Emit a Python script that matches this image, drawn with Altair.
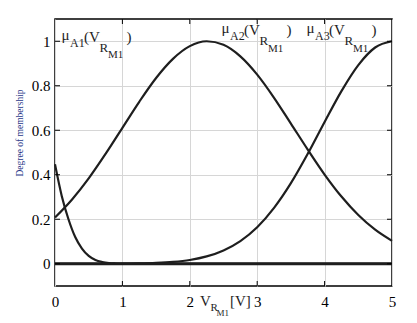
import altair as alt
import pandas as pd

# ---- data ----
x_ticks = [0, 1, 2, 3, 4, 5]
y_ticks = [0, 0.2, 0.4, 0.6, 0.8, 1.0]

x_a1 = [0.0, 0.1, 0.2, 0.3, 0.4, 0.5, 0.6, 0.7, 0.8, 0.9, 1.0, 1.5, 2.0, 3.0, 4.0, 5.0]
a1 = [0.447, 0.305, 0.200, 0.120, 0.068, 0.035, 0.017, 0.008, 0.003, 0.001, 0.0, 0.0, 0.0, 0.0, 0.0, 0.0]

x_a23 = [0.0, 0.25, 0.5, 0.75, 1.0, 1.25, 1.5, 1.75, 2.0, 2.25, 2.5, 2.75,
         3.0, 3.25, 3.5, 3.75, 4.0, 4.25, 4.5, 4.75, 5.0]
a2 = [0.208, 0.288, 0.384, 0.494, 0.611, 0.728, 0.835, 0.921, 0.978, 1.0, 0.984, 0.932,
      0.850, 0.746, 0.630, 0.513, 0.401, 0.302, 0.219, 0.153, 0.103]
a3 = [0.0, 0.0, 0.0, 0.0, 0.0007, 0.0017, 0.004, 0.0085, 0.017, 0.033, 0.060, 0.102,
      0.164, 0.251, 0.362, 0.494, 0.637, 0.776, 0.893, 0.972, 1.0]

df = pd.concat([
    pd.DataFrame({"x": x_a1, "y": a1, "s": "A1"}),
    pd.DataFrame({"x": x_a23, "y": a2, "s": "A2"}),
    pd.DataFrame({"x": x_a23, "y": a3, "s": "A3"}),
])

W, H = 337, 267
OX, OY = 55, 19
FONT = "'Liberation Serif', 'Times New Roman', 'DejaVu Serif', serif"
INK = "#1e1e1e"

xscale = alt.Scale(domain=[0, 5], nice=False, zero=False)
yscale = alt.Scale(domain=[-0.1, 1.1], nice=False, zero=False)

xaxis = alt.Axis(values=x_ticks, format="~g", title=None, ticks=False, domain=False, grid=True,
                 gridColor="#d6d6d6", gridWidth=1, labelFont=FONT, labelFontSize=15,
                 labelColor="black", labelPadding=8, labelFlush=False)
yaxis = alt.Axis(values=y_ticks, format="~g", title=None, ticks=False, domain=False, grid=True,
                 gridColor="#d6d6d6", gridWidth=1, labelFont=FONT, labelFontSize=15,
                 labelColor="black", labelPadding=5, labelFlush=False)

lines = alt.Chart(df).mark_line(color=INK, strokeWidth=2.2, interpolate="monotone").encode(
    x=alt.X("x:Q", scale=xscale, axis=xaxis),
    y=alt.Y("y:Q", scale=yscale, axis=yaxis),
    detail="s:N",
)

zero = alt.Chart(pd.DataFrame({"v": [0.0]})).mark_rule(color=INK, strokeWidth=3).encode(
    y=alt.Y("v:Q", scale=yscale, axis=yaxis), x=alt.value(0), x2=alt.value(W))

ydf = pd.DataFrame({"v": y_ticks})
xdf = pd.DataFrame({"v": x_ticks[1:-1]})
tk = dict(color="black", strokeWidth=1)
ticks = [
    alt.Chart(ydf).mark_rule(**tk).encode(y=alt.Y("v:Q", scale=yscale, axis=yaxis), x=alt.value(0), x2=alt.value(5)),
    alt.Chart(ydf).mark_rule(**tk).encode(y=alt.Y("v:Q", scale=yscale, axis=yaxis), x=alt.value(W - 5), x2=alt.value(W)),
    alt.Chart(xdf).mark_rule(**tk).encode(x=alt.X("v:Q", scale=xscale, axis=xaxis), y=alt.value(H), y2=alt.value(H - 5)),
    alt.Chart(xdf).mark_rule(**tk).encode(x=alt.X("v:Q", scale=xscale, axis=xaxis), y=alt.value(0), y2=alt.value(5)),
]


def txt(s, ax, ay, size, color=INK, **kw):
    return alt.Chart(alt.Data(values=[{}])).mark_text(
        text=s, font=FONT, fontSize=size, color=color, align=kw.pop("align", "left"),
        baseline=kw.pop("baseline", "alphabetic"), **kw
    ).encode(x=alt.value(ax - OX), y=alt.value(ay - OY))


def mu_label(idx, x0, dy):
    # pieces: mu, subscript, "(V", R, M1, ")"
    return [
        txt("\u03bc", x0, 39.5 + dy, 15),
        txt("A" + idx, x0 + 8.5, 46.7 + dy, 12),
        txt("(V", x0 + 22.5, 41.7 + dy, 15),
        txt("R", x0 + 38, 51.7 + dy, 13),
        txt("M1", x0 + 46.5, 58.3 + dy, 11),
        txt(")", x0 + 65, 41.7 + dy, 15),
    ]


labels = []
labels += mu_label("1", 61.5, 0)
labels += mu_label("2", 221.5, -6.7)
labels += mu_label("3", 306.5, -6.4)

xtitle = [
    txt("V", 200, 306, 15),
    txt("R", 210.5, 310.5, 11),
    txt("M1", 216.5, 315.5, 9),
    txt("[V]", 230, 306, 15),
]
ytitle = [txt("Degree of membership", 20, 133, 9.5, color="#2b3a8a",
              align="center", baseline="middle", angle=270)]

chart = alt.layer(lines, zero, *ticks, *labels, *xtitle, *ytitle).properties(
    width=W, height=H,
    padding={"left": OX, "top": OY, "right": 417 - OX - W, "bottom": 323 - OY - H},
    autosize=alt.AutoSizeParams(type="none"),
    background="white",
).configure_view(stroke="black", strokeWidth=1.5)

chart.save("out.html", embed_options={"renderer": "svg", "actions": False})
